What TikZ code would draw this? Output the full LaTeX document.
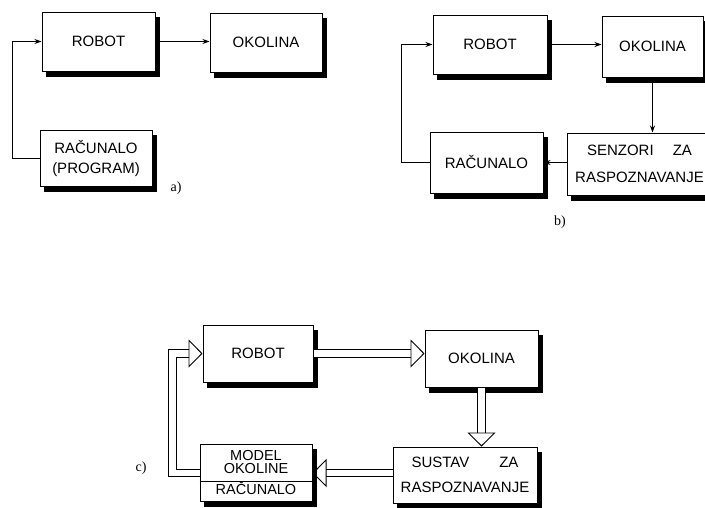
\documentclass[tikz,border=0pt]{standalone}
\usepackage{fontspec}
\setmainfont{Liberation Sans}
\newfontfamily\labelfont{Liberation Serif}
\usetikzlibrary{arrows.meta,positioning,calc,backgrounds}

\begin{document}
\begin{tikzpicture}[
  x=1pt, y=-1pt,
  every node/.style={align=center, font=\fontsize{15}{17}\selectfont},
  block/.style={rectangle, draw=black, line width=1pt, fill=white, inner sep=0pt},
  arrow/.style={-{Stealth[length=7pt, width=5pt]}, line width=0.7pt},
  hollow/.style={double=white, double distance=6.5pt, line width=0.9pt,
    -{Triangle[open, length=14pt, width=28pt]}},
  caption/.style={font=\labelfont\fontsize{14}{16}\selectfont}
]
\useasboundingbox (0,0) rectangle (705,507);

% --- PART A ---
\node[block, minimum width=113pt, minimum height=59pt] (robotA) at (98.5,41.5) {ROBOT};
\node[block, minimum width=112pt, minimum height=59pt] (okolinaA) at (266,42.5) {OKOLINA};
\node[block, minimum width=112pt, minimum height=56pt] (racunaloA) at (96,158) {RAČUNALO\\[3pt](PROGRAM)};
\node[caption] (capA) at (176,188) {a)};

\draw[arrow] (robotA.east) -- (robotA.east -| okolinaA.west);
\draw[arrow] (racunaloA.west) -- ++(-27,0) |- (robotA.west);

% --- PART B ---
\node[block, minimum width=114pt, minimum height=59pt] (robotB) at (490,44.5) {ROBOT};
\node[block, minimum width=101pt, minimum height=61pt] (okolinaB) at (652.5,46.5) {OKOLINA};
\node[block, minimum width=145pt, minimum height=62pt] (senzori) at (639.5,164) {SENZORI\quad\ ZA\\[10pt]RASPOZNAVANJE};
\node[block, minimum width=113pt, minimum height=61pt] (racunaloB) at (486.5,162.5) {RAČUNALO};
\node[caption] (capB) at (560,222) {b)};

\draw[arrow] (robotB.east) -- (robotB.east -| okolinaB.west);
\draw[arrow] (okolinaB.south) -- (okolinaB.south |- senzori.north);
\draw[arrow] (senzori.west |- racunaloB.east) -- (racunaloB.east);
\draw[arrow] (racunaloB.west) -- ++(-28,0) |- (robotB.west);

% --- PART C ---
\node[block, minimum width=110pt, minimum height=57pt] (robotC) at (258,353.5) {ROBOT};
\node[block, minimum width=113pt, minimum height=57pt] (okolinaC) at (481.5,358.5) {OKOLINA};
\node[block, minimum width=144pt, minimum height=56pt] (sustav) at (465,475) {SUSTAV\qquad ZA\\[8pt]RASPOZNAVANJE};
\node[block, minimum width=112pt, minimum height=57pt, font=\fontsize{14.5}{13}\selectfont] (model) at (256,473) {MODEL\\OKOLINE\\[8pt]RAČUNALO};
\node[caption] (capC) at (141,468) {c)};

\draw[line width=0.9pt] ($(model.south west)!0.35!(model.north west)$) -- ($(model.south east)!0.35!(model.north east)$);

\draw[hollow] (robotC.east) -- (robotC.east -| okolinaC.west);
\draw[hollow] (okolinaC.south) -- (okolinaC.south |- sustav.north);
\draw[hollow] (sustav.west |- model.east) -- (model.east);
\draw[hollow] (model.west) -- ++(-27,0) |- (robotC.west);

% --- SHADOWS ---
\begin{pgfonlayer}{background}
  \foreach \n in {robotA,okolinaA,racunaloA,robotB,okolinaB,senzori,racunaloB,robotC,okolinaC,sustav,model}
    \fill[black] ([xshift=4pt,yshift=-5pt]\n.south west) rectangle ([xshift=4pt,yshift=-5pt]\n.north east);
\end{pgfonlayer}

\end{tikzpicture}
\end{document}
